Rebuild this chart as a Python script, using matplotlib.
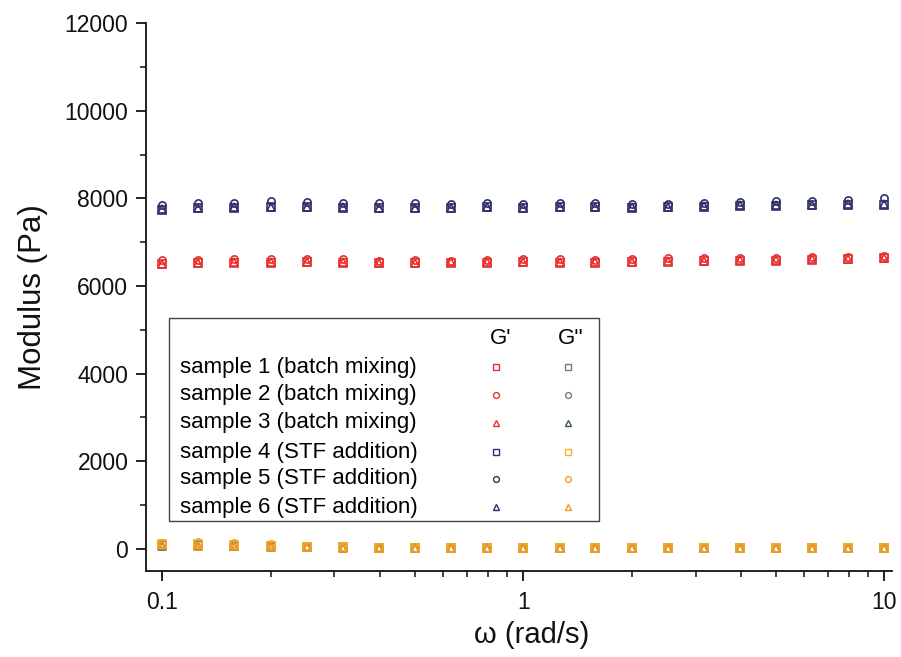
import matplotlib
matplotlib.use("Agg")
import matplotlib.pyplot as plt
from matplotlib.patches import Rectangle
from matplotlib.ticker import FixedLocator, NullFormatter

plt.rcParams['font.family'] = ['Liberation Sans', 'DejaVu Sans']

# angular frequency (rad/s)
omega = [0.1, 0.126, 0.158, 0.2, 0.251, 0.316, 0.398, 0.501, 0.631, 0.794,
         1.0, 1.26, 1.58, 2.0, 2.51, 3.16, 3.98, 5.01, 6.31, 7.94, 10.0]

# storage modulus G' (Pa)
gp_s1 = [6500, 6520, 6530, 6530, 6540, 6530, 6520, 6520, 6530, 6530, 6540,
         6530, 6530, 6540, 6560, 6570, 6580, 6580, 6600, 6610, 6630]
gp_s2 = [6600, 6590, 6620, 6610, 6620, 6610, 6580, 6590, 6580, 6600, 6610,
         6610, 6590, 6610, 6630, 6630, 6640, 6650, 6660, 6670, 6680]
gp_s3 = [6510, 6530, 6540, 6540, 6550, 6540, 6530, 6530, 6540, 6540, 6550,
         6540, 6540, 6550, 6570, 6580, 6590, 6590, 6610, 6620, 6640]
gp_s4 = [7740, 7790, 7790, 7800, 7800, 7790, 7790, 7780, 7780, 7800, 7780,
         7800, 7800, 7790, 7800, 7810, 7820, 7830, 7840, 7850, 7860]
gp_s5 = [7850, 7900, 7900, 7940, 7920, 7900, 7890, 7890, 7880, 7900, 7870,
         7890, 7890, 7880, 7880, 7900, 7920, 7940, 7950, 7970, 8010]
gp_s6 = [7760, 7790, 7800, 7810, 7810, 7800, 7790, 7790, 7790, 7800, 7790,
         7800, 7810, 7800, 7810, 7830, 7840, 7850, 7860, 7870, 7880]

# loss modulus G'' (Pa)
gpp_s1 = [90, 80, 70, 55, 40, 30, 22, 18, 15, 12, 10, 10, 10, 10, 10, 10, 10, 10, 10, 10, 10]
gpp_s2 = [100, 110, 90, 70, 50, 35, 26, 20, 16, 13, 11, 11, 11, 11, 11, 11, 11, 11, 11, 11, 11]
gpp_s3 = [70, 60, 55, 45, 32, 24, 18, 14, 12, 10, 8, 8, 8, 8, 8, 8, 8, 8, 8, 8, 8]
gpp_s4 = [110, 100, 90, 70, 50, 35, 25, 20, 15, 12, 10, 10, 10, 10, 10, 10, 10, 10, 10, 10, 10]
gpp_s5 = [130, 160, 130, 105, 65, 45, 32, 26, 20, 15, 12, 12, 12, 12, 12, 12, 12, 12, 12, 12, 12]
gpp_s6 = [80, 70, 60, 50, 35, 25, 20, 15, 12, 10, 8, 8, 8, 8, 8, 8, 8, 8, 8, 8, 8]

labels = ["sample 1 (batch mixing)", "sample 2 (batch mixing)", "sample 3 (batch mixing)",
          "sample 4 (STF addition)", "sample 5 (STF addition)", "sample 6 (STF addition)"]

RED = '#e5302e'
NAVY = '#2f2f6a'
GRAY = '#7a7a7a'
SLATE = '#3c5858'
YEL = '#f4b424'
ORG = '#f2a226'
ORG2 = '#f3981e'

markers = ['s', 'o', '^', 's', 'o', '^']
gp_colors = [RED, RED, RED, NAVY, NAVY, NAVY]
gpp_colors = [GRAY, GRAY, SLATE, YEL, ORG, ORG2]
gp_data = [gp_s1, gp_s2, gp_s3, gp_s4, gp_s5, gp_s6]
gpp_data = [gpp_s1, gpp_s2, gpp_s3, gpp_s4, gpp_s5, gpp_s6]

fig = plt.figure(figsize=(9.01, 6.57), dpi=100)
ax = fig.add_axes([0.1617, 0.1314, 0.8283, 0.8331])

ms = 5.2
mew = 1.2
for d, c, m in zip(gpp_data, gpp_colors, markers):
    ax.plot(omega, d, linestyle='none', marker=m, ms=ms, mfc='none', mec=c, mew=mew)
for d, c, m in zip(gp_data, gp_colors, markers):
    ax.plot(omega, d, linestyle='none', marker=m, ms=ms, mfc='none', mec=c, mew=mew)

ax.set_xscale('log')
ax.set_xlim(0.09, 10.5)
ax.set_ylim(-500, 12000)
ax.set_xticks([0.1, 1, 10])
ax.set_xticklabels(['0.1', '1', '10'])
ax.xaxis.set_minor_locator(FixedLocator([k * 0.1 for k in range(2, 10)] + [k * 1.0 for k in range(2, 10)]))
ax.xaxis.set_minor_formatter(NullFormatter())
ax.set_yticks(range(0, 12001, 2000))
ax.yaxis.set_minor_locator(FixedLocator(range(1000, 12000, 2000)))

for s in ['top', 'right']:
    ax.spines[s].set_visible(False)
for s in ['left', 'bottom']:
    ax.spines[s].set_linewidth(1.3)
    ax.spines[s].set_color('#111111')

ax.tick_params(which='major', direction='out', length=7.5, width=1.3, labelsize=16.5, pad=5, colors='#111111')
ax.tick_params(which='minor', direction='out', length=4, width=1.1, colors='#111111')
ax.tick_params(axis='x', which='major', pad=7)

ax.set_xlabel('ω (rad/s)', fontsize=21, color='#111111')
ax.xaxis.set_label_coords(0.517, -0.092)
ax.set_ylabel('Modulus (Pa)', fontsize=22.5, labelpad=12, color='#111111')

# custom legend
ax.add_patch(Rectangle((0.031, 0.0908), 0.5766, 0.3708, transform=ax.transAxes,
                       fill=True, facecolor='white', edgecolor='#444444', lw=1.0, zorder=5))
ax.text(0.475, 0.425, "G'", transform=ax.transAxes, fontsize=16, ha='center', va='center', zorder=6)
ax.text(0.569, 0.425, "G''", transform=ax.transAxes, fontsize=16, ha='center', va='center', zorder=6)
rows_y = [0.3721, 0.3210, 0.2698, 0.2168, 0.1675, 0.1163]
for i, lab in enumerate(labels):
    ax.text(0.046, rows_y[i], lab, transform=ax.transAxes, fontsize=16, ha='left', va='center', zorder=6)
    ax.plot([0.4696], [rows_y[i]], transform=ax.transAxes, marker=markers[i], ms=4.2,
            mfc='none', mec=gp_colors[i], mew=1.0, linestyle='none', zorder=6, clip_on=False)
    ax.plot([0.566], [rows_y[i]], transform=ax.transAxes, marker=markers[i], ms=4.2,
            mfc='none', mec=gpp_colors[i], mew=1.0, linestyle='none', zorder=6, clip_on=False)

fig.savefig('out.png', dpi=100)
